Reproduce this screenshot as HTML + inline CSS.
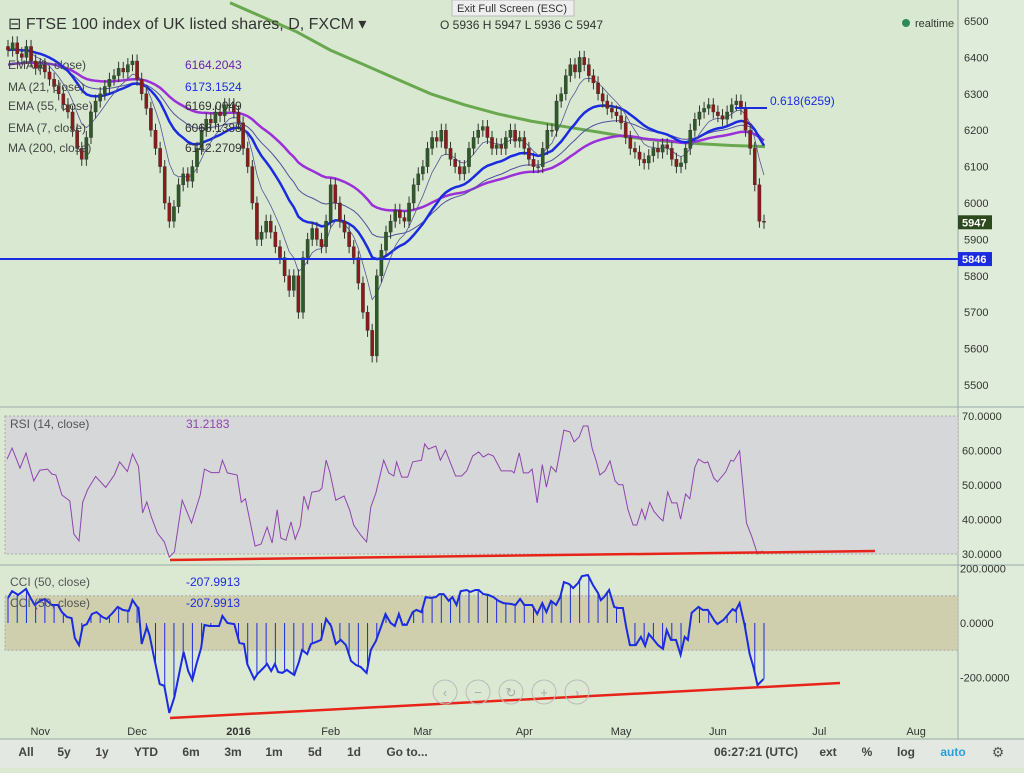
<!DOCTYPE html>
<html><head><meta charset="utf-8">
<style>
body{margin:0;width:1024px;height:768px;overflow:hidden;background:#dbe9d3;font-family:"Liberation Sans",sans-serif;}
svg text{font-family:"Liberation Sans",sans-serif;}
</style></head>
<body>
<svg id="c" width="1024" height="768">
</svg>
<script>
// ---- data ----
const closes=[6420,6440,6410,6400,6430,6390,6370,6380,6360,6340,6320,
6300,6270,6250,6200,6150,6120,6180,6250,6280,6300,
6320,6340,6350,6370,6360,6380,6390,6340,6300,6260,
6200,6150,6100,6000,5950,5990,6050,6080,6060,6100,
6150,6200,6230,6220,6250,6240,6270,6270,6250,6220,
6150,6100,6000,5900,5920,5950,5920,5880,5850,5800,
5760,5800,5700,5850,5900,5930,5900,5880,5950,6050,
6000,5950,5920,5880,5850,5780,5700,5650,5580,5800,
5870,5920,5950,5980,5960,5950,6000,6050,6080,6100,
6150,6180,6170,6200,6150,6120,6100,6080,6100,6150,
6180,6200,6210,6180,6150,6160,6150,6180,6200,6170,
6180,6150,6120,6100,6100,6150,6200,6200,6280,6300,
6350,6380,6360,6400,6380,6350,6330,6300,6280,6260,
6250,6240,6220,6180,6150,6140,6120,6110,6130,6150,
6140,6160,6150,6120,6100,6110,6150,6200,6230,6250,
6260,6270,6250,6240,6230,6250,6270,6280,6260,6200,
6150,6050,5950,5947];
const ma200Keys=[6550,6510,6470,6420,6380,6340,6300,6270,6245,6225,6210,6195,6180,6170,6163,6158,6155];
const rsiBars=[-0.2,0.9,2.6,3.9,5.6,6.9,8.6,9.5,10.4,11.7,13.4,14.3,15.4,16.2,17.3,19,21.2,23.1,24.2,25.9,27,28.3,29.2,30.1,31.1,32.4,33.9,35,36.1,37.8,39.8,41.7,42.6,44.1,45.8,46.5,47.6,49.7,50.6,51.5,53.6,54.9,56.2,57.3,58.4,59.2,60.3,61.4,62.3,63.4,64.2,65.1,65.9,67.5,68.1,69,69.8,71.1,72.9,74.1,75,76.5,77.8,78.7,79.8,81.5,82.6,83.7,84.3,85.4,86.7,87.8,89.7,90.4,91.2,92.8,93.8,94.9,97.1,98.4,99.5,100.8,102.1,103.1,104.2,105.3,107,109.2,109.8,110.9,111.8,112.9,113.7,114.8,115.9,116.8,117.8,118.9,120.6,121.9,122.8,123.9,124.8,125.8,126.7,127.6,128.4,129.5,130.6,131.7,132.5,133.4,134.5,135.6,136.4,137.5,138.2,139.2,140.1,141.4,142.1,143.1,144,145.1,145.9,147,147.9,149,149.8,151.1,151.8,153.1,153.9,155.7,156.8,157.4,158.7,160.2,161.3,162.6,163.7];
const rsiVals=[57.5,60.7,54.9,59.3,51.2,54.3,54.6,53.2,52.9,47.1,45.4,35.8,33.8,45,48.7,52.5,49.3,53,56.7,53.9,59,55.4,41.9,45.1,40.7,36.1,33.5,29.1,30.6,45.6,39,47.1,54.6,53.6,53.6,57.2,53.5,52.9,45,46,32.3,32.9,37.8,33.2,42.8,34.6,34,39.3,34.3,38.1,46.8,43,47.9,48.3,49.1,57.2,53.8,45.6,46.8,42.8,38.4,35.5,33.5,43.6,47.7,57.2,53.5,52.6,56.7,52.3,52.3,56.7,57.2,61.9,60.4,61.3,57.2,60.1,52.6,52.6,54.1,58.4,59.6,58.1,59,58.4,54.1,54.1,53.5,59.3,53.5,53.5,54.6,44.8,55.9,49.4,55.4,53.8,65.9,65.4,62.5,63.9,67.1,67.1,60.7,57,52.9,54.1,57,51.2,50.1,50.1,42.8,38.4,38.4,43,40.1,45,42.4,40.4,39.6,48,44.8,44.8,40.1,47.4,46,55.2,57.5,56.4,56.7,52,50.9,53.8,57.2,56.9,59.9,39,35.2,30,30.9];
const cciBars=[0,0.9,2.2,3.9,4.8,5.8,6.9,8,9.5,10.8,11.7,12.8,13.8,14.5,15.4,16.2,17.1,18.2,19.2,20.5,21.4,22.7,23.8,24.9,26.2,27,27.9,28.3,29,30.1,30.7,31.8,32.9,33.9,35,36.1,37.2,38.1,39.1,40,40.9,41.9,42.6,43.7,45.8,46.5,47.6,49.1,50.2,51.2,51.9,53.4,54.1,55.4,56.2,57.1,57.9,58.6,59.5,60.5,61.4,62.1,63.1,63.8,64.9,65.7,66.8,67.9,69,70.1,71.1,72.2,73.3,74.4,75.5,76.5,77.8,78.7,79.8,80.9,81.9,83,83.9,84.8,85.6,86.5,87.8,88.6,89.7,90.6,91.7,92.8,93.6,94.5,95.6,96.4,97.3,98.2,99.5,100.3,101.4,102.1,103.1,104.2,105.3,106.4,107.5,109,110.1,111.1,112,113.7,114.8,115.9,116.8,117.8,118.9,119.8,120.6,121.7,122.6,123.7,124.5,125.8,126.9,128,128.6,129.3,130.4,131.5,132.3,133.4,134.1,134.9,136.2,137.3,138.2,139,140.1,141,142.1,142.9,143.8,144.9,145.9,146.8,147.5,148.3,149.8,150.7,151.8,153.3,153.9,155.2,156.5,157.2,157.8,158.7,159.8,160.9,161.7,162.6,163.9];
const cciVals=[92,117,103,125,95,66,81,88,66,66,40,22,18,-55,-81,-11,-4,33,40,22,15,37,59,48,44,84,62,55,-77,-15,-44,-136,-224,-231,-330,-272,-180,-106,-176,-209,-150,-92,-7,-11,-11,26,0,-4,-73,-77,-150,-206,-187,-165,-150,-176,-150,-180,-183,-172,-183,-191,-143,-99,-114,-77,-70,-62,15,-11,-77,-62,-81,-139,-154,-161,-183,-99,-66,-15,33,0,-11,33,-7,-7,40,48,40,95,92,95,106,106,81,95,66,117,121,114,121,121,106,103,95,81,73,70,66,88,66,66,33,73,40,81,66,95,150,143,128,147,172,176,139,110,84,95,121,59,55,55,-15,-81,-81,-51,-84,-40,-62,-81,-95,-26,-62,-62,-117,-51,-62,37,59,48,48,7,-4,11,37,51,44,73,-7,-114,-161,-228,-206];
const priceTicks=[6500,6400,6300,6200,6100,6000,5900,5800,5700,5600,5500];
const rsiTicks=[70,60,50,40,30];
const cciTicks=[200,0,-200];
const monthLabels=["Nov","Dec","2016","Feb","Mar","Apr","May","Jun","Jul","Aug"];
const monthBars=[7,28,50,70,90,112,133,154,176,197];
const hLine=5846, lastPrice=5947;

const S=document.getElementById('c');
const NS='http://www.w3.org/2000/svg';
function el(t,a,txt){const e=document.createElementNS(NS,t);for(const k in a)e.setAttribute(k,a[k]);if(txt!==undefined)e.textContent=txt;S.appendChild(e);return e;}
const n=closes.length;
const bw=756/(n-1);
const X=i=>8+i*bw;
const Y=p=>21+(6500-p)*0.364;
const YR=v=>416+(70-v)*3.45;
const YC=v=>623-v*0.2725;

let e;
e=el('rect',{x:0,y:0,width:958,height:407,fill:'#d9e9d1'});


el('rect',{x:958,y:0,width:66,height:740,fill:'#dfecd9'});
el('line',{x1:958,y1:0,x2:958,y2:740,stroke:'#9aa',"stroke-width":1});
el('line',{x1:0,y1:407,x2:1024,y2:407,stroke:'#9aa'});
el('line',{x1:0,y1:565,x2:1024,y2:565,stroke:'#9aa'});
el('line',{x1:0,y1:739,x2:1024,y2:739,stroke:'#9aa'});
e=el('rect',{x:5,y:YR(70),width:953,height:YR(30)-YR(70),fill:'#d6d7d9',stroke:'#aaa','stroke-dasharray':'2,2'});


e=el('rect',{x:5,y:YC(100),width:953,height:YC(-100)-YC(100),fill:'#cfcfae',stroke:'#aaa','stroke-dasharray':'2,2'});



priceTicks.forEach(p=>{const t=el('text',{x:964,y:Y(p)+4,'font-size':11,fill:'#333'},String(p));});
rsiTicks.forEach(v=>{const t=el('text',{x:962,y:YR(v)+4,'font-size':11,fill:'#333'},v.toFixed(4));});
cciTicks.forEach(v=>{const t=el('text',{x:960,y:YC(v)+4,'font-size':11,fill:'#333'},v.toFixed(4));});
monthLabels.forEach((m,k)=>{const t=el('text',{x:X(monthBars[k]),y:735,'font-size':11,fill:'#333','text-anchor':'middle','font-weight':m==='2016'?'bold':'normal'},m);});

const kn=ma200Keys.length;
let d='';
ma200Keys.forEach((v,k)=>{const xx=230+k*(535/(kn-1));d+=(k?'L':'M')+xx+','+Y(v);});
e=el('path',{d:d,fill:'none',stroke:'#6aa84f','stroke-width':3});



function ema(per){const out=[];const k=2/(per+1);let v=closes[0]+(per>30?-40:0);closes.forEach((c,i)=>{v=i?c*k+v*(1-k):v;out.push(v);});return out;}
function line(arr,col,w,name){let dd='';arr.forEach((v,i)=>dd+=(i?'L':'M')+X(i).toFixed(1)+','+Y(v).toFixed(1));const p=el('path',{d:dd,fill:'none',stroke:col,'stroke-width':w});}
line(ema(55),'#9b30d9',2.5,'ema55-line');
line(ema(34),'#5050a0',1,'ema34-line');
line(ema(21),'#1a2be0',2.5,'ma21-line');
line(ema(7),'#555599',0.8,'ema7-line');

closes.forEach((c,i)=>{
 const o=i?closes[i-1]:c+10;
 const x=X(i);
 const up=c>=o;
 const hi=Math.max(o,c)+18, lo=Math.min(o,c)-18;
 const w=el('line',{x1:x,y1:Y(hi),x2:x,y2:Y(lo),stroke:'#333','stroke-width':1});
 
 
 const r=el('rect',{x:x-1.6,y:Y(Math.max(o,c)),width:3.2,height:Math.max(1,Math.abs(Y(o)-Y(c))),fill:up?'#2d5a27':'#8b1a1a',stroke:'#333','stroke-width':0.4});
 
 
});

e=el('line',{x1:0,y1:Y(hLine),x2:958,y2:Y(hLine),stroke:'#1a2be0','stroke-width':2});


el('rect',{x:958,y:Y(hLine)-7,width:34,height:14,fill:'#1a2be0'});
el('text',{x:962,y:Y(hLine)+4,'font-size':11,fill:'#fff','font-weight':'bold'},String(hLine));
el('rect',{x:958,y:Y(lastPrice)-7,width:34,height:14,fill:'#2d4a1e'});
el('text',{x:962,y:Y(lastPrice)+4,'font-size':11,fill:'#fff','font-weight':'bold'},String(lastPrice));
el('line',{x1:735,y1:108,x2:767,y2:108,stroke:'#1a2be0','stroke-width':2});
el('text',{x:770,y:105,'font-size':12,fill:'#1a2be0'},'0.618(6259)');

// RSI
let rd='';rsiBars.forEach((b,k)=>rd+=(k?'L':'M')+X(b).toFixed(1)+','+YR(rsiVals[k]).toFixed(1));
e=el('path',{d:rd,fill:'none',stroke:'#8e44ad','stroke-width':1});


e=el('line',{x1:170,y1:560,x2:875,y2:551,stroke:'#e8231a','stroke-width':2.5});



// CCI
function cciAt(i){for(let k=0;k<cciBars.length-1;k++){if(i>=cciBars[k]&&i<=cciBars[k+1]){const t=(i-cciBars[k])/(cciBars[k+1]-cciBars[k]);return cciVals[k]+t*(cciVals[k+1]-cciVals[k]);}}return cciVals[cciVals.length-1];}
for(let i=0;i<n;i+=2){const h=el('line',{x1:X(i),y1:YC(0),x2:X(i),y2:YC(cciAt(i)),stroke:'#1a2be0','stroke-width':1});}
let cd='';cciBars.forEach((b,k)=>cd+=(k?'L':'M')+X(b).toFixed(1)+','+YC(cciVals[k]).toFixed(1));
e=el('path',{d:cd,fill:'none',stroke:'#1a2be0','stroke-width':2});


e=el('line',{x1:170,y1:718,x2:840,y2:683,stroke:'#e8231a','stroke-width':2.5});



e=el('text',{x:8,y:29,'font-size':16,fill:'#333'},'⊟ FTSE 100 index of UK listed shares, D, FXCM ▾');


el('text',{x:440,y:29,'font-size':12,fill:'#333'},'O 5936  H 5947  L 5936  C 5947');
el('rect',{x:452,y:0,width:122,height:16,fill:'#eee',stroke:'#bbb'});
el('text',{x:457,y:12,'font-size':11,fill:'#333'},'Exit Full Screen (ESC)');
el('circle',{cx:906,cy:23,r:4,fill:'#2e8b57'});
el('text',{x:915,y:27,'font-size':11,fill:'#333'},'realtime');
const leg=[['EMA (8, close)','6164.2043','#6a1fb0',69],['MA (21, close)','6173.1524','#1a2be0',91],['EMA (55, close)','6169.0049','#333',110],['EMA (7, close)','6068.1388','#333',132],['MA (200, close)','6142.2709','#333',152]];
leg.forEach(l=>{const t=el('text',{x:8,y:l[3],'font-size':12,fill:'#444'},l[0]);el('text',{x:l[0].length>13?185:180,y:l[3],'font-size':12,fill:l[2]},l[1]);});
el('text',{x:10,y:428,'font-size':12,fill:'#555'},'RSI (14, close)');
el('text',{x:186,y:428,'font-size':12,fill:'#8e44ad'},'31.2183');
el('text',{x:10,y:586,'font-size':12,fill:'#555'},'CCI (50, close)');
el('text',{x:186,y:586,'font-size':12,fill:'#1a2be0'},'-207.9913');
el('text',{x:10,y:607,'font-size':12,fill:'#555'},'CCI (50, close)');
el('text',{x:186,y:607,'font-size':12,fill:'#1a2be0'},'-207.9913');

['‹','−','↻','+','›'].forEach((s,k)=>{const c=el('circle',{cx:445+k*33,cy:692,r:12,fill:'none',stroke:'#bbb'});el('text',{x:445+k*33,y:697,'font-size':13,fill:'#aaa','text-anchor':'middle'},s);});

el('rect',{x:0,y:740,width:1024,height:28,fill:'#e4e8e2'});
const btns=[['All',26],['5y',64],['1y',102],['YTD',146],['6m',191],['3m',233],['1m',274],['5d',315],['1d',354],['Go to...',407],['ext',828],['%',867],['log',906],['auto',953]];
btns.forEach(b=>{const t=el('text',{x:b[1],y:756,'font-size':12,fill:b[0]==='auto'?'#2a9fd6':'#444','text-anchor':'middle','font-weight':'bold'},b[0]);});
el('text',{x:714,y:756,'font-size':12,fill:'#444','font-weight':'bold'},'06:27:21 (UTC)');
el('text',{x:998,y:757,'font-size':14,fill:'#555','text-anchor':'middle'},'⚙');
</script>
</body></html>
